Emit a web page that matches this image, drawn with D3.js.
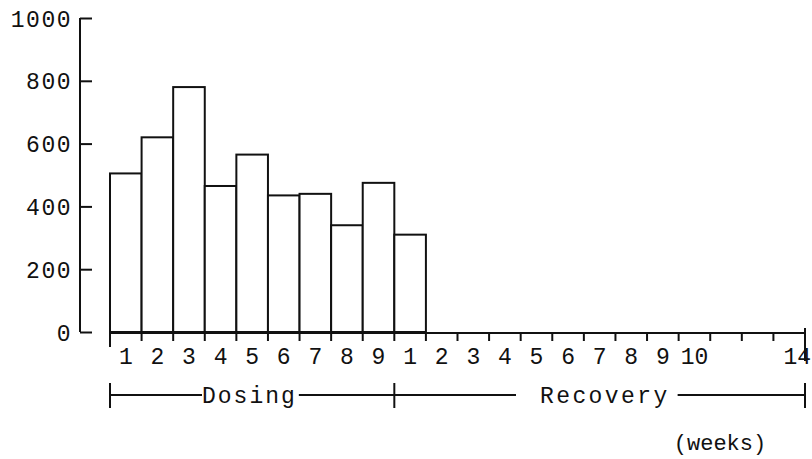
<!DOCTYPE html>
<html>
<head>
<meta charset="utf-8">
<script src="https://cdn.jsdelivr.net/npm/d3@7"></script>
<style>
  html, body { margin: 0; padding: 0; background: #fff; }
  svg text { font-family: "Liberation Mono", "DejaVu Sans Mono", monospace; fill: #111; }
</style>
</head>
<body>
<svg id="chart" width="812" height="459"></svg>
<script>
// ---- data ----
const dosingWeeks = ["1", "2", "3", "4", "5", "6", "7", "8", "9"];
const recoveryWeeks = ["1", "2", "3", "4", "5", "6", "7", "8", "9", "10", "", "", "14"];
const barValues = [505, 620, 780, 465, 565, 435, 440, 340, 475, 310];
const yTicks = [0, 200, 400, 600, 800, 1000];
const phaseLabels = ["Dosing", "Recovery"];
const unitLabel = "(weeks)";

// ---- layout ----
const svg = d3.select("#chart");
const ink = "#111";
const nDose = dosingWeeks.length;
const nRec = recoveryWeeks.length;
const nTotal = nDose + nRec;

const x = d3.scaleLinear().domain([0, nTotal]).range([110, 805]);
const y = d3.scaleLinear().domain([0, 1000]).range([332, 18]);
const yAxisX = 80;

// y axis
const yAxis = d3.axisRight(y).tickValues(yTicks).tickSize(12).tickFormat(d3.format("d"));
const gy = svg.append("g").attr("transform", `translate(${yAxisX},0)`).call(yAxis);
gy.select(".domain").attr("d", `M0,${y(1000)}V${y(0)}`).attr("stroke", ink).attr("stroke-width", 2);
gy.selectAll(".tick line").attr("stroke", ink).attr("stroke-width", 2);
gy.selectAll(".tick text")
  .attr("x", -8).attr("dy", "0.35em")
  .attr("text-anchor", "end")
  .style("font-size", "23px").style("letter-spacing", "1.5px")
  .style("font-family", '"Liberation Mono", monospace').attr("fill", ink);

// bars
svg.append("g").selectAll("rect").data(barValues).join("rect")
  .attr("x", (d, i) => x(i))
  .attr("y", d => y(d))
  .attr("width", (d, i) => x(i + 1) - x(i))
  .attr("height", d => y(0) - y(d))
  .attr("fill", "#fff").attr("stroke", ink).attr("stroke-width", 2);

// x axis line
const base = y(0) + 1;
svg.append("line").attr("x1", x(0)).attr("x2", x(nTotal)).attr("y1", base).attr("y2", base)
  .attr("stroke", ink).attr("stroke-width", 2);

// x ticks
const tickIdx = d3.range(0, nTotal + 1);
svg.append("g").selectAll("line").data(tickIdx).join("line")
  .attr("x1", d => x(d)).attr("x2", d => x(d))
  .attr("y1", d => (d === nTotal ? base - 5 : base))
  .attr("y2", d => (d === 0 ? base + 14 : d === nTotal ? base + 28 : base + 8))
  .attr("stroke", ink).attr("stroke-width", 2);

// x tick labels
const allLabels = dosingWeeks.map((t, i) => ({ t, i })).concat(recoveryWeeks.map((t, i) => ({ t, i: nDose + i })));
svg.append("g").selectAll("text").data(allLabels.filter(d => d.t !== "")).join("text")
  .attr("x", d => x(d.i + 0.5) + (d.t === "14" ? 8 : 0))
  .attr("y", base + 31)
  .attr("text-anchor", "middle")
  .style("font-size", "23px")
  .text(d => d.t);

// phase brackets
const by = 395;
const br = svg.append("g").attr("stroke", ink).attr("stroke-width", 2);
[0, nDose, nTotal].forEach(i => {
  br.append("line").attr("x1", x(i)).attr("x2", x(i)).attr("y1", by - 12).attr("y2", by + 13);
});
const dosingText = svg.append("text").attr("x", 202).attr("y", by + 8)
  .style("font-size", "23px").style("letter-spacing", "2px").text(phaseLabels[0]);
const recText = svg.append("text").attr("x", 540).attr("y", by + 8)
  .style("font-size", "23px").style("letter-spacing", "2.4px").text(phaseLabels[1]);
const dW = dosingText.node().getComputedTextLength();
const rW = recText.node().getComputedTextLength();
br.append("line").attr("x1", x(0)).attr("x2", 202).attr("y1", by).attr("y2", by);
br.append("line").attr("x1", 202 + dW + 2).attr("x2", x(nDose)).attr("y1", by).attr("y2", by);
br.append("line").attr("x1", x(nDose)).attr("x2", 516).attr("y1", by).attr("y2", by);
br.append("line").attr("x1", 540 + rW + 8).attr("x2", x(nTotal)).attr("y1", by).attr("y2", by);

// units
svg.append("text").attr("x", 720).attr("y", 450).attr("text-anchor", "middle")
  .style("font-size", "22px").text(unitLabel);
</script>
</body>
</html>
